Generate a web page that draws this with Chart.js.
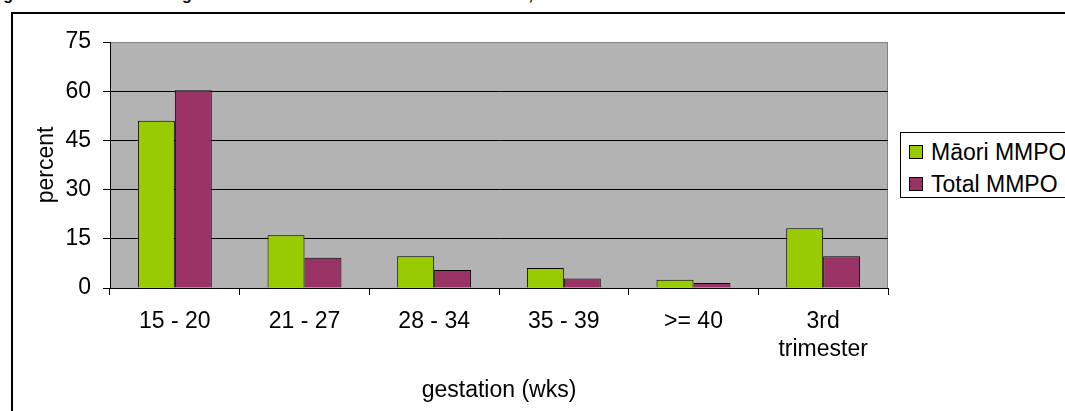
<!DOCTYPE html>
<html>
<head>
<meta charset="utf-8">
<script src="https://cdn.jsdelivr.net/npm/chart.js@4/dist/chart.umd.min.js"></script>
<style>
  html, body { margin: 0; padding: 0; background: #fff; }
  body { width: 1065px; height: 411px; position: relative; overflow: hidden; font-family: Arial, "Liberation Sans", sans-serif; }
  #title { position: absolute; left: -11px; top: -14px; font-weight: bold; font-size: 16px; white-space: nowrap; color: #000; }
  #frame { position: absolute; left: 11px; top: 12px; width: 1100px; height: 450px; border-left: 2px solid #000; border-top: 2px solid #000; }
  #wrap { position: absolute; left: 0; top: 0; width: 1065px; height: 411px; }
  #legend { position: absolute; left: 900px; top: 132px; width: 200px; height: 64px; border: 1px solid #000; background: #fff; }
  .item { position: absolute; left: 8px; height: 28px; line-height: 28px; font-size: 23px; white-space: nowrap; }
  .sw { display: inline-block; width: 12px; height: 12px; border: 1px solid #000; margin-right: 8px; vertical-align: 1px; }
</style>
</head>
<body>
<div id="title">Figure 13: Gestation at registration with LMC for Māori and total MMPO, 2007</div>
<div id="frame"></div>
<div id="wrap"><canvas id="chart" width="1065" height="411"></canvas></div>
<div id="legend"></div>
<script>
// data
const categories = ["15 - 20", "21 - 27", "28 - 34", "35 - 39", ">= 40", ["3rd", "trimester"]];
const maoriMMPO = [51.0, 16.1, 9.7, 6.1, 2.5, 18.2];
const totalMMPO = [60.3, 9.2, 5.5, 2.9, 1.5, 9.7];
const seriesNames = ["Māori MMPO", "Total MMPO"];
const seriesColors = ["#99cc00", "#993366"];
const yTicks = [0, 15, 30, 45, 60, 75];

const FONT = { family: "Arial, 'Liberation Sans', sans-serif", size: 23 };

// gray plot background + gray top/right border
const plotBg = {
  id: "plotBg",
  beforeDraw(chart) {
    const { ctx, chartArea: a } = chart;
    ctx.save();
    ctx.fillStyle = "#b3b3b3";
    ctx.fillRect(a.left, a.top, a.right - a.left, a.bottom - a.top);
    ctx.strokeStyle = "#808080";
    ctx.lineWidth = 1;
    ctx.beginPath();
    ctx.moveTo(a.left, a.top + 0.5);
    ctx.lineTo(a.right - 0.5, a.top + 0.5);
    ctx.lineTo(a.right - 0.5, a.bottom);
    ctx.stroke();
    ctx.restore();
  },
};

const ctx = document.getElementById("chart").getContext("2d");
const chart = new Chart(ctx, {
  type: "bar",
  data: {
    labels: categories,
    datasets: [
      {
        label: seriesNames[0],
        data: maoriMMPO,
        backgroundColor: seriesColors[0],
        borderColor: "#000",
        borderWidth: 1,
        categoryPercentage: 0.57,
        barPercentage: 1.0,
      },
      {
        label: seriesNames[1],
        data: totalMMPO,
        backgroundColor: seriesColors[1],
        borderColor: "#000",
        borderWidth: 1,
        categoryPercentage: 0.57,
        barPercentage: 1.0,
      },
    ],
  },
  options: {
    responsive: false,
    animation: false,
    devicePixelRatio: 1,
    layout: { padding: { top: 42, right: 177, left: 0, bottom: 0 } },
    plugins: {
      legend: { display: false },
      tooltip: { enabled: false },
      title: { display: false },
    },
    scales: {
      x: {
        grid: {
          offset: true,
          drawOnChartArea: false,
          drawTicks: true,
          tickLength: 7,
          color: "#000",
        },
        border: { color: "#000", width: 1 },
        ticks: { color: "#000", font: { ...FONT, lineHeight: 1.2 }, padding: 13, maxRotation: 0, autoSkip: false },
        title: {
          display: true,
          text: "gestation (wks)",
          color: "#000",
          font: FONT,
          padding: { top: 0, bottom: 7 },
        },
        afterFit(scale) { scale.height = 123; },
      },
      y: {
        min: 0,
        max: 75,
        afterBuildTicks(scale) { scale.ticks = yTicks.map((v) => ({ value: v })); },
        grid: {
          color: (c) => (c.tick && c.tick.value === 75 ? "#808080" : "#000"),
          tickColor: "#000",
          tickLength: 7,
          drawTicks: true,
        },
        border: { color: "#000", width: 1 },
        ticks: { color: "#000", font: FONT, padding: 12 },
        title: {
          display: true,
          text: "percent",
          color: "#000",
          font: FONT,
          padding: { top: 33, bottom: 0 },
        },
        afterFit(scale) { scale.width = 110; },
      },
    },
  },
  plugins: [plotBg],
});

// legend built from the series arrays
const legend = document.getElementById("legend");
seriesNames.forEach((name, i) => {
  const item = document.createElement("div");
  item.className = "item";
  item.style.top = (5 + i * 32) + "px";
  item.innerHTML = '<span class="sw" style="background:' + seriesColors[i] + '"></span>' + name;
  legend.appendChild(item);
});
</script>
</body>
</html>
